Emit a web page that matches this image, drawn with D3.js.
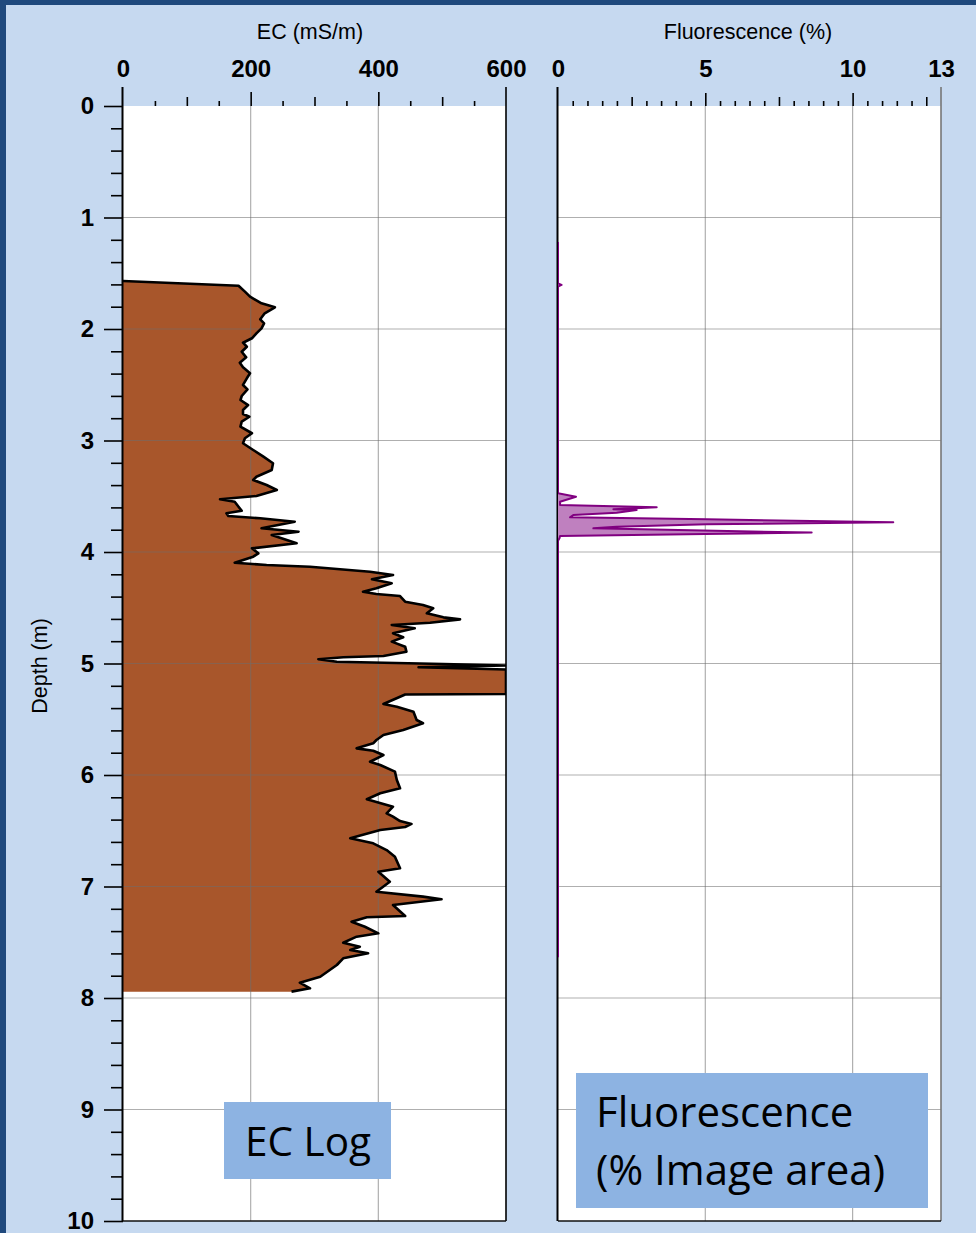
<!DOCTYPE html>
<html>
<head>
<meta charset="utf-8">
<script src="https://cdn.jsdelivr.net/npm/d3@7"></script>
<style>
  body { margin: 0; background: #c6d9f0; }
  svg { display: block; }
</style>
</head>
<body>
<svg id="chart" width="976" height="1233"></svg>
<script>
// EC log: depth (m) and electrical conductivity (mS/m)
const ecDepth = [1.570, 1.612, 1.665, 1.710, 1.770, 1.805, 1.859, 1.913, 1.949, 1.994,
  2.039, 2.083, 2.123, 2.159, 2.204, 2.254, 2.302, 2.344, 2.397, 2.442,
  2.502, 2.541, 2.601, 2.637, 2.682, 2.726, 2.762, 2.787, 2.831, 2.876,
  2.935, 2.980, 3.025, 3.085, 3.145, 3.204, 3.265, 3.325, 3.354, 3.399,
  3.444, 3.498, 3.527, 3.549, 3.594, 3.630, 3.653, 3.677, 3.698, 3.728,
  3.787, 3.818, 3.848, 3.922, 3.967, 4.012, 4.042, 4.096, 4.117, 4.132,
  4.177, 4.206, 4.245, 4.281, 4.326, 4.356, 4.377, 4.395, 4.446, 4.475,
  4.505, 4.550, 4.586, 4.604, 4.634, 4.655, 4.684, 4.729, 4.765, 4.804,
  4.849, 4.894, 4.933, 4.944, 4.962, 4.984, 5.004, 5.018, 5.034, 5.054,
  5.274, 5.278, 5.298, 5.363, 5.387, 5.432, 5.507, 5.536, 5.596, 5.641,
  5.686, 5.716, 5.761, 5.782, 5.821, 5.881, 5.910, 5.970, 6.045, 6.119,
  6.164, 6.218, 6.284, 6.344, 6.374, 6.413, 6.439, 6.466, 6.493, 6.568,
  6.613, 6.673, 6.733, 6.837, 6.867, 6.957, 7.047, 7.091, 7.115, 7.166,
  7.265, 7.276, 7.316, 7.361, 7.420, 7.450, 7.504, 7.540, 7.570, 7.599,
  7.644, 7.704, 7.809, 7.863, 7.913, 7.943];
const ecValue = [0, 181, 191, 199, 217, 238, 222, 215, 221, 217,
  209, 202, 188, 194, 186, 193, 183, 188, 199, 194,
  188, 195, 186, 184, 196, 188, 188, 198, 186, 184,
  202, 191, 188, 204, 220, 235, 233, 209, 204, 225,
  241, 209, 152, 175, 181, 186, 162, 165, 215, 269,
  217, 275, 233, 272, 202, 212, 204, 175, 225, 293,
  387, 423, 390, 421, 397, 376, 397, 434, 442, 470,
  486, 476, 502, 528, 481, 421, 457, 423, 439, 421,
  442, 444, 408, 345, 306, 335, 502, 600, 463, 600,
  600, 442, 434, 408, 429, 455, 460, 470, 439, 408,
  397, 392, 366, 392, 408, 387, 403, 426, 429, 434,
  403, 382, 423, 413, 423, 434, 452, 442, 403, 356,
  392, 413, 426, 434, 400, 418, 397, 470, 499, 423,
  442, 382, 358, 379, 400, 366, 345, 371, 356, 384,
  345, 335, 309, 277, 293, 264];

// Fluorescence log: depth (m) and % of image area
const flDepth = [1.220, 1.590, 1.605, 1.620, 3.474, 3.504, 3.549, 3.578, 3.599, 3.617,
  3.623, 3.647, 3.668, 3.689, 3.707, 3.734, 3.751, 3.773, 3.788, 3.826,
  3.839, 3.857, 3.877, 3.900, 7.635];
const flValue = [0, 0, 0.12, 0, 0, 0.61, 0.07, 0.07, 3.35, 1.88,
  2.67, 1.99, 0.52, 0.41, 5.05, 11.38, 5.05, 1.99, 1.20, 8.61,
  5.0, 0.07, 0.05, 0, 0];

// Axis tick values
const depthTicks = d3.range(0, 11, 1);
const depthMinorTicks = d3.range(0, 10.01, 0.2).filter(v => Math.abs(v - Math.round(v)) > 1e-6);
const ecTicks = [0, 200, 400, 600];
const flTicks = [0, 5, 10, 13];

const W = 976, H = 1233;
const svg = d3.select("#chart");

// background and frame
svg.append("rect").attr("width", W).attr("height", H).attr("fill", "#c6d9f0");
svg.append("rect").attr("x", 0).attr("y", 0).attr("width", W).attr("height", 5).attr("fill", "#1f497d");
svg.append("rect").attr("x", 0).attr("y", 0).attr("width", 6).attr("height", H).attr("fill", "#1f497d");

const y = d3.scaleLinear().domain([0, 10]).range([106, 1221]);
const xEC = d3.scaleLinear().domain([0, 600]).range([123, 506]);
const xFl = d3.scaleLinear().domain([0, 13]).range([558, 941]);

const tickFont = "'Liberation Sans', Arial, sans-serif";

function drawPanel(x, id) {
  const [x0, x1] = x.range();
  const [y0, y1] = y.range();
  svg.append("rect").attr("x", x0).attr("y", y0).attr("width", x1 - x0).attr("height", y1 - y0)
    .attr("fill", "#ffffff");
  svg.append("clipPath").attr("id", id)
    .append("rect").attr("x", x0).attr("y", y0).attr("width", x1 - x0).attr("height", y1 - y0);
  return { x0, x1, y0, y1 };
}

function drawGrid(x, gridX, box) {
  const g = svg.append("g").attr("stroke", "#6e6e6e").attr("stroke-opacity", 0.55).attr("stroke-width", 1.2);
  gridX.forEach(v => {
    g.append("line").attr("x1", x(v)).attr("x2", x(v)).attr("y1", box.y0).attr("y2", box.y1);
  });
  depthTicks.filter(d => d > 0 && d < 10).forEach(d => {
    g.append("line").attr("x1", box.x0).attr("x2", box.x1).attr("y1", y(d)).attr("y2", y(d));
  });
}

function drawBorders(box, rightColor) {
  svg.append("line").attr("x1", box.x1).attr("x2", box.x1).attr("y1", box.y0 - 19).attr("y2", box.y1)
    .attr("stroke", rightColor).attr("stroke-width", 1.6);
  svg.append("line").attr("x1", box.x0).attr("x2", box.x1).attr("y1", box.y1).attr("y2", box.y1)
    .attr("stroke", "#111").attr("stroke-width", 1.6);
  svg.append("line").attr("x1", box.x0 - 0.5).attr("x2", box.x0 - 0.5).attr("y1", box.y0 - 19).attr("y2", box.y1)
    .attr("stroke", "#000").attr("stroke-width", 2);
}

function topTicks(x, values, size) {
  const g = svg.append("g").attr("transform", `translate(0,${y(0)})`)
    .call(d3.axisTop(x).tickValues(values).tickSize(size).tickFormat(""));
  g.select(".domain").remove();
  g.selectAll(".tick line").attr("stroke", "#000").attr("stroke-width", 1.6);
}

function topLabels(x, values, title, titleX) {
  const g = svg.append("g").attr("transform", `translate(0,${y(0)})`)
    .call(d3.axisTop(x).tickValues(values).tickSize(0).tickPadding(29));
  g.select(".domain").remove();
  g.selectAll(".tick text").attr("fill", "#000")
    .style("font-family", tickFont).style("font-size", "24px").style("font-weight", "bold");
  svg.append("text").attr("x", titleX).attr("y", 39).attr("text-anchor", "middle")
    .style("font-family", tickFont).style("font-size", "21.5px").attr("fill", "#000").text(title);
}

// ---------- EC panel ----------
const boxEC = drawPanel(xEC, "clipEC");
const ecData = ecDepth.map((d, i) => ({ d, v: ecValue[i] }));
const ecArea = d3.area().y(p => y(p.d)).x0(xEC(0)).x1(p => xEC(p.v));
const ecLine = d3.line().y(p => y(p.d)).x(p => xEC(p.v));
svg.append("path").datum(ecData).attr("d", ecArea).attr("fill", "#a8562b").attr("clip-path", "url(#clipEC)");
drawGrid(xEC, [200, 400], boxEC);
svg.append("path").datum(ecData).attr("d", ecLine).attr("fill", "none").attr("stroke", "#000")
  .attr("stroke-width", 2.6).attr("stroke-linejoin", "round").attr("clip-path", "url(#clipEC)");
drawBorders(boxEC, "#000");

topTicks(xEC, d3.range(50, 600, 50).filter(v => v % 100 !== 0), 5);
topTicks(xEC, [100, 300, 500], 9);
topTicks(xEC, [200, 400], 14);
topLabels(xEC, ecTicks, "EC (mS/m)", 310);

// ---------- Fluorescence panel ----------
const boxFl = drawPanel(xFl, "clipFl");
drawGrid(xFl, [5, 10], boxFl);
const flData = flDepth.map((d, i) => ({ d, v: flValue[i] }));
const flArea = d3.area().y(p => y(p.d)).x0(xFl(0)).x1(p => xFl(p.v));
const flLine = d3.line().y(p => y(p.d)).x(p => xFl(p.v));
drawBorders(boxFl, "#777");
svg.append("path").datum(flData).attr("d", flArea).attr("fill", "#bf80bf").attr("clip-path", "url(#clipFl)");
svg.append("path").datum(flData).attr("d", flLine).attr("fill", "none").attr("stroke", "#800080")
  .attr("stroke-width", 2).attr("stroke-linejoin", "round").attr("clip-path", "url(#clipFl)");

topTicks(xFl, d3.range(0.5, 13, 0.5).filter(v => v % 2.5 !== 0), 5);
topTicks(xFl, [2.5, 7.5, 12.5], 9);
topTicks(xFl, [5, 10], 13);
topLabels(xFl, flTicks, "Fluorescence (%)", 748);

// ---------- Depth axis ----------
const gMinor = svg.append("g").attr("transform", `translate(${xEC(0)},0)`)
  .call(d3.axisLeft(y).tickValues(depthMinorTicks).tickSize(12).tickFormat(""));
gMinor.select(".domain").remove();
gMinor.selectAll(".tick line").attr("stroke", "#000").attr("stroke-width", 1.6);

const gMajor = svg.append("g").attr("transform", `translate(${xEC(0)},0)`)
  .call(d3.axisLeft(y).tickValues(depthTicks).tickSize(19).tickPadding(10).tickFormat(d3.format("d")));
gMajor.select(".domain").remove();
gMajor.selectAll(".tick line").attr("stroke", "#000").attr("stroke-width", 1.6);
gMajor.selectAll(".tick text").attr("fill", "#000")
  .style("font-family", tickFont).style("font-size", "24px").style("font-weight", "bold");

svg.append("text").attr("transform", "translate(47,666) rotate(-90)").attr("text-anchor", "middle")
  .style("font-family", tickFont).style("font-size", "21.5px").attr("fill", "#000").text("Depth (m)");

// ---------- Caption boxes ----------
const captionFont = "'Open Sans', 'Noto Sans', sans-serif";
svg.append("rect").attr("x", 224).attr("y", 1102).attr("width", 167).attr("height", 77).attr("fill", "#8db3e2");
svg.append("text").attr("x", 245).attr("y", 1156)
  .style("font-family", captionFont).style("font-size", "40.5px").attr("fill", "#000").text("EC Log");

svg.append("rect").attr("x", 576).attr("y", 1073).attr("width", 352).attr("height", 135).attr("fill", "#8db3e2");
svg.append("text").attr("x", 596).attr("y", 1127)
  .style("font-family", captionFont).style("font-size", "42px").attr("fill", "#000").text("Fluorescence");
svg.append("text").attr("x", 596).attr("y", 1185)
  .style("font-family", captionFont).style("font-size", "42px").attr("fill", "#000").text("(% Image area)");
</script>
</body>
</html>
